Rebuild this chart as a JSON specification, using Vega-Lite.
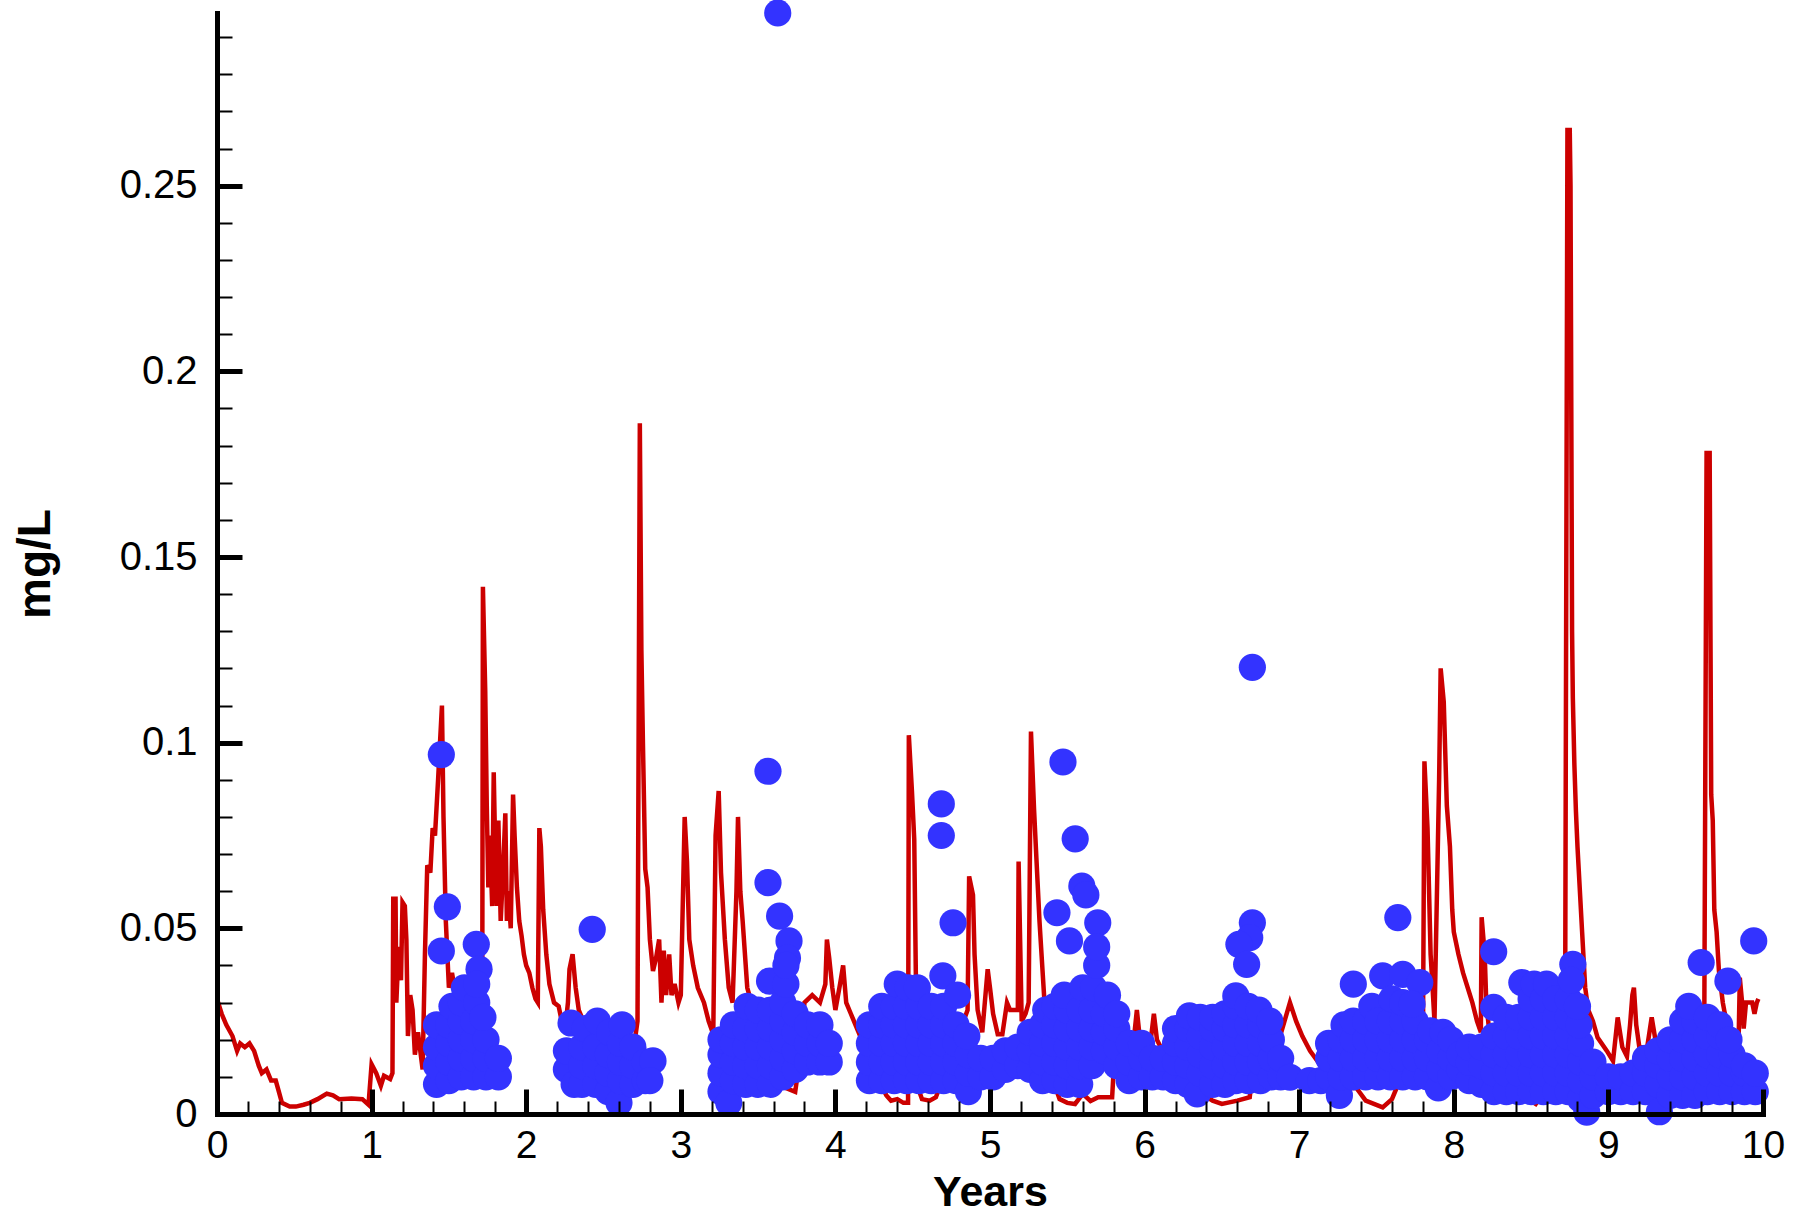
{
"$schema": "https://vega.github.io/schema/vega-lite/v6.json",
"width": 1546, "height": 1101,
"autosize": {"type": "none"},
"padding": {"left": 217, "top": 13, "right": 31, "bottom": 99},
"background": "white",
"config": {"view": {"stroke": null}, "axis": {"grid": false}},
"datasets": {
"model": [
{"year":0.00,"mg":0.031},{"year":0.03,"mg":0.027},{"year":0.06,"mg":0.024},{"year":0.10,"mg":0.021},{"year":0.13,"mg":0.017},{"year":0.15,"mg":0.019},{"year":0.18,"mg":0.018},{"year":0.21,"mg":0.019},{"year":0.24,"mg":0.017},{"year":0.27,"mg":0.013},{"year":0.29,"mg":0.011},{"year":0.32,"mg":0.012},{"year":0.35,"mg":0.009},{"year":0.38,"mg":0.009},{"year":0.40,"mg":0.006},{"year":0.42,"mg":0.003},{"year":0.47,"mg":0.002},{"year":0.51,"mg":0.002},{"year":0.56,"mg":0.0025},{"year":0.60,"mg":0.003},{"year":0.65,"mg":0.004},{"year":0.71,"mg":0.0055},{"year":0.75,"mg":0.005},{"year":0.79,"mg":0.004},{"year":0.87,"mg":0.0042},{"year":0.94,"mg":0.004},{"year":0.98,"mg":0.0025},
{"year":1.00,"mg":0.0134},{"year":1.03,"mg":0.011},{"year":1.06,"mg":0.0076},{"year":1.08,"mg":0.0103},{"year":1.12,"mg":0.0094},{"year":1.135,"mg":0.011},{"year":1.14,"mg":0.058},{"year":1.155,"mg":0.058},{"year":1.16,"mg":0.030},{"year":1.175,"mg":0.045},{"year":1.19,"mg":0.036},{"year":1.20,"mg":0.057},{"year":1.215,"mg":0.056},{"year":1.225,"mg":0.047},{"year":1.235,"mg":0.021},{"year":1.25,"mg":0.032},{"year":1.265,"mg":0.028},{"year":1.28,"mg":0.016},{"year":1.30,"mg":0.022},{"year":1.33,"mg":0.012},{"year":1.345,"mg":0.043},{"year":1.36,"mg":0.067},{"year":1.38,"mg":0.065},{"year":1.395,"mg":0.077},{"year":1.41,"mg":0.075},{"year":1.43,"mg":0.090},{"year":1.455,"mg":0.110},{"year":1.465,"mg":0.080},{"year":1.48,"mg":0.052},{"year":1.50,"mg":0.034},{"year":1.52,"mg":0.038},{"year":1.56,"mg":0.028},{"year":1.60,"mg":0.020},{"year":1.64,"mg":0.012},{"year":1.66,"mg":0.008},{"year":1.69,"mg":0.009},{"year":1.715,"mg":0.010},{"year":1.72,"mg":0.142},{"year":1.735,"mg":0.114},{"year":1.745,"mg":0.083},{"year":1.755,"mg":0.061},{"year":1.765,"mg":0.075},{"year":1.78,"mg":0.056},{"year":1.79,"mg":0.092},{"year":1.80,"mg":0.070},{"year":1.81,"mg":0.056},{"year":1.82,"mg":0.079},{"year":1.835,"mg":0.052},{"year":1.85,"mg":0.065},{"year":1.865,"mg":0.081},{"year":1.875,"mg":0.052},{"year":1.885,"mg":0.060},{"year":1.90,"mg":0.050},{"year":1.915,"mg":0.086},{"year":1.925,"mg":0.075},{"year":1.94,"mg":0.061},{"year":1.955,"mg":0.052},{"year":1.97,"mg":0.048},{"year":1.985,"mg":0.043},
{"year":2.00,"mg":0.040},{"year":2.02,"mg":0.038},{"year":2.04,"mg":0.034},{"year":2.06,"mg":0.031},{"year":2.075,"mg":0.030},{"year":2.085,"mg":0.077},{"year":2.095,"mg":0.072},{"year":2.11,"mg":0.055},{"year":2.13,"mg":0.043},{"year":2.15,"mg":0.035},{"year":2.18,"mg":0.030},{"year":2.21,"mg":0.029},{"year":2.23,"mg":0.025},{"year":2.25,"mg":0.022},{"year":2.27,"mg":0.030},{"year":2.28,"mg":0.039},{"year":2.30,"mg":0.043},{"year":2.32,"mg":0.034},{"year":2.34,"mg":0.028},{"year":2.38,"mg":0.024},{"year":2.45,"mg":0.020},{"year":2.52,"mg":0.017},{"year":2.60,"mg":0.014},{"year":2.68,"mg":0.013},{"year":2.72,"mg":0.025},{"year":2.735,"mg":0.186},{"year":2.745,"mg":0.125},{"year":2.755,"mg":0.100},{"year":2.77,"mg":0.066},{"year":2.785,"mg":0.061},{"year":2.80,"mg":0.047},{"year":2.82,"mg":0.0385},{"year":2.84,"mg":0.042},{"year":2.86,"mg":0.047},{"year":2.875,"mg":0.030},{"year":2.89,"mg":0.044},{"year":2.905,"mg":0.032},{"year":2.925,"mg":0.043},{"year":2.94,"mg":0.032},{"year":2.96,"mg":0.035},{"year":2.985,"mg":0.030},
{"year":3.00,"mg":0.032},{"year":3.025,"mg":0.080},{"year":3.04,"mg":0.068},{"year":3.055,"mg":0.047},{"year":3.08,"mg":0.040},{"year":3.11,"mg":0.034},{"year":3.15,"mg":0.030},{"year":3.18,"mg":0.025},{"year":3.21,"mg":0.0215},{"year":3.225,"mg":0.075},{"year":3.245,"mg":0.087},{"year":3.26,"mg":0.065},{"year":3.285,"mg":0.047},{"year":3.31,"mg":0.034},{"year":3.335,"mg":0.030},{"year":3.36,"mg":0.060},{"year":3.37,"mg":0.080},{"year":3.385,"mg":0.060},{"year":3.40,"mg":0.052},{"year":3.43,"mg":0.034},{"year":3.47,"mg":0.028},{"year":3.52,"mg":0.024},{"year":3.58,"mg":0.018},{"year":3.63,"mg":0.012},{"year":3.68,"mg":0.007},{"year":3.74,"mg":0.006},{"year":3.76,"mg":0.012},{"year":3.80,"mg":0.030},{"year":3.85,"mg":0.032},{"year":3.90,"mg":0.030},{"year":3.935,"mg":0.035},{"year":3.945,"mg":0.047},{"year":3.96,"mg":0.042},{"year":3.98,"mg":0.034},
{"year":4.00,"mg":0.028},{"year":4.03,"mg":0.035},{"year":4.05,"mg":0.040},{"year":4.07,"mg":0.030},{"year":4.10,"mg":0.027},{"year":4.14,"mg":0.023},{"year":4.18,"mg":0.019},{"year":4.22,"mg":0.014},{"year":4.28,"mg":0.009},{"year":4.33,"mg":0.005},{"year":4.36,"mg":0.0036},{"year":4.40,"mg":0.004},{"year":4.44,"mg":0.003},{"year":4.47,"mg":0.003},{"year":4.475,"mg":0.102},{"year":4.495,"mg":0.087},{"year":4.51,"mg":0.074},{"year":4.52,"mg":0.0385},{"year":4.535,"mg":0.007},{"year":4.56,"mg":0.004},{"year":4.61,"mg":0.0036},{"year":4.65,"mg":0.0045},{"year":4.70,"mg":0.010},{"year":4.76,"mg":0.018},{"year":4.82,"mg":0.024},{"year":4.855,"mg":0.028},{"year":4.865,"mg":0.064},{"year":4.89,"mg":0.059},{"year":4.90,"mg":0.043},{"year":4.92,"mg":0.028},{"year":4.95,"mg":0.022},{"year":4.985,"mg":0.039},
{"year":5.00,"mg":0.034},{"year":5.02,"mg":0.027},{"year":5.05,"mg":0.0215},{"year":5.08,"mg":0.0215},{"year":5.11,"mg":0.030},{"year":5.13,"mg":0.028},{"year":5.16,"mg":0.028},{"year":5.18,"mg":0.028},{"year":5.185,"mg":0.068},{"year":5.205,"mg":0.025},{"year":5.23,"mg":0.027},{"year":5.25,"mg":0.030},{"year":5.265,"mg":0.103},{"year":5.285,"mg":0.082},{"year":5.30,"mg":0.069},{"year":5.32,"mg":0.052},{"year":5.34,"mg":0.0385},{"year":5.36,"mg":0.025},{"year":5.40,"mg":0.010},{"year":5.45,"mg":0.004},{"year":5.50,"mg":0.003},{"year":5.55,"mg":0.0027},{"year":5.60,"mg":0.0054},{"year":5.65,"mg":0.0035},{"year":5.70,"mg":0.0045},{"year":5.76,"mg":0.0045},{"year":5.79,"mg":0.0045},{"year":5.80,"mg":0.012},{"year":5.86,"mg":0.018},{"year":5.93,"mg":0.020},{"year":5.95,"mg":0.028},{"year":5.97,"mg":0.020},
{"year":6.00,"mg":0.021},{"year":6.04,"mg":0.020},{"year":6.06,"mg":0.027},{"year":6.08,"mg":0.020},{"year":6.14,"mg":0.015},{"year":6.25,"mg":0.010},{"year":6.35,"mg":0.006},{"year":6.44,"mg":0.0036},{"year":6.50,"mg":0.0027},{"year":6.60,"mg":0.0036},{"year":6.68,"mg":0.0045},{"year":6.70,"mg":0.012},{"year":6.78,"mg":0.015},{"year":6.85,"mg":0.012},{"year":6.87,"mg":0.020},{"year":6.94,"mg":0.030},{"year":6.98,"mg":0.025},
{"year":7.02,"mg":0.021},{"year":7.07,"mg":0.017},{"year":7.14,"mg":0.013},{"year":7.20,"mg":0.009},{"year":7.30,"mg":0.007},{"year":7.37,"mg":0.007},{"year":7.43,"mg":0.0036},{"year":7.54,"mg":0.0018},{"year":7.60,"mg":0.004},{"year":7.65,"mg":0.009},{"year":7.73,"mg":0.0125},{"year":7.78,"mg":0.016},{"year":7.80,"mg":0.016},{"year":7.81,"mg":0.095},{"year":7.83,"mg":0.077},{"year":7.85,"mg":0.043},{"year":7.86,"mg":0.036},{"year":7.875,"mg":0.025},{"year":7.905,"mg":0.090},{"year":7.915,"mg":0.120},{"year":7.935,"mg":0.111},{"year":7.955,"mg":0.083},{"year":7.975,"mg":0.072},{"year":7.99,"mg":0.055},
{"year":8.00,"mg":0.049},{"year":8.03,"mg":0.043},{"year":8.06,"mg":0.038},{"year":8.09,"mg":0.034},{"year":8.12,"mg":0.030},{"year":8.15,"mg":0.025},{"year":8.175,"mg":0.022},{"year":8.18,"mg":0.053},{"year":8.20,"mg":0.043},{"year":8.21,"mg":0.030},{"year":8.23,"mg":0.022},{"year":8.30,"mg":0.015},{"year":8.40,"mg":0.008},{"year":8.48,"mg":0.004},{"year":8.53,"mg":0.0027},{"year":8.56,"mg":0.0045},{"year":8.62,"mg":0.006},{"year":8.68,"mg":0.010},{"year":8.72,"mg":0.025},{"year":8.735,"mg":0.265},{"year":8.75,"mg":0.265},{"year":8.755,"mg":0.25},{"year":8.765,"mg":0.13},{"year":8.77,"mg":0.112},{"year":8.78,"mg":0.094},{"year":8.79,"mg":0.0815},{"year":8.80,"mg":0.072},{"year":8.83,"mg":0.049},{"year":8.85,"mg":0.034},{"year":8.87,"mg":0.028},{"year":8.90,"mg":0.025},{"year":8.93,"mg":0.0206},{"year":8.99,"mg":0.017},
{"year":9.03,"mg":0.0143},{"year":9.06,"mg":0.026},{"year":9.09,"mg":0.018},{"year":9.12,"mg":0.0155},{"year":9.14,"mg":0.024},{"year":9.155,"mg":0.032},{"year":9.165,"mg":0.034},{"year":9.18,"mg":0.024},{"year":9.20,"mg":0.018},{"year":9.22,"mg":0.018},{"year":9.24,"mg":0.015},{"year":9.28,"mg":0.026},{"year":9.32,"mg":0.016},{"year":9.38,"mg":0.010},{"year":9.45,"mg":0.008},{"year":9.52,"mg":0.012},{"year":9.58,"mg":0.016},{"year":9.62,"mg":0.022},{"year":9.635,"mg":0.178},{"year":9.655,"mg":0.178},{"year":9.665,"mg":0.086},{"year":9.675,"mg":0.079},{"year":9.685,"mg":0.055},{"year":9.70,"mg":0.049},{"year":9.715,"mg":0.0385},{"year":9.74,"mg":0.030},{"year":9.78,"mg":0.021},{"year":9.82,"mg":0.017},{"year":9.84,"mg":0.015},{"year":9.85,"mg":0.0367},{"year":9.865,"mg":0.030},{"year":9.875,"mg":0.023},{"year":9.89,"mg":0.030},{"year":9.93,"mg":0.030},{"year":9.945,"mg":0.027},{"year":9.96,"mg":0.030},{"year":9.97,"mg":0.031}
],
"obs": [
{"year":1.451,"mg":0.0968},{"year":1.49,"mg":0.0558},{"year":1.451,"mg":0.0439},{"year":1.677,"mg":0.0457},{"year":1.695,"mg":0.039},
{"year":1.42,"mg":0.008},{"year":1.42,"mg":0.013},{"year":1.42,"mg":0.018},{"year":1.42,"mg":0.024},
{"year":1.50,"mg":0.009},{"year":1.50,"mg":0.014},{"year":1.50,"mg":0.019},{"year":1.50,"mg":0.024},{"year":1.52,"mg":0.029},
{"year":1.58,"mg":0.010},{"year":1.58,"mg":0.015},{"year":1.58,"mg":0.020},{"year":1.58,"mg":0.025},{"year":1.58,"mg":0.030},{"year":1.60,"mg":0.034},
{"year":1.66,"mg":0.010},{"year":1.66,"mg":0.015},{"year":1.66,"mg":0.020},{"year":1.66,"mg":0.025},{"year":1.68,"mg":0.030},{"year":1.68,"mg":0.035},
{"year":1.74,"mg":0.010},{"year":1.74,"mg":0.015},{"year":1.74,"mg":0.020},{"year":1.72,"mg":0.026},
{"year":1.82,"mg":0.010},{"year":1.82,"mg":0.015},
{"year":2.427,"mg":0.0497},
{"year":2.26,"mg":0.012},{"year":2.26,"mg":0.017},{"year":2.29,"mg":0.0245},{"year":2.31,"mg":0.008},
{"year":2.36,"mg":0.008},{"year":2.36,"mg":0.013},{"year":2.36,"mg":0.018},{"year":2.38,"mg":0.023},
{"year":2.45,"mg":0.008},{"year":2.45,"mg":0.013},{"year":2.45,"mg":0.018},{"year":2.46,"mg":0.025},
{"year":2.53,"mg":0.006},{"year":2.53,"mg":0.011},{"year":2.53,"mg":0.016},{"year":2.54,"mg":0.022},
{"year":2.60,"mg":0.003},{"year":2.61,"mg":0.009},{"year":2.61,"mg":0.014},{"year":2.61,"mg":0.019},{"year":2.62,"mg":0.024},
{"year":2.69,"mg":0.008},{"year":2.69,"mg":0.013},{"year":2.69,"mg":0.018},
{"year":2.77,"mg":0.009},{"year":2.77,"mg":0.014},{"year":2.82,"mg":0.0143},{"year":2.80,"mg":0.009},
{"year":3.627,"mg":0.2965},{"year":3.564,"mg":0.0923},{"year":3.564,"mg":0.0623},{"year":3.639,"mg":0.0533},{"year":3.70,"mg":0.0466},{"year":3.69,"mg":0.042},
{"year":3.26,"mg":0.006},{"year":3.26,"mg":0.011},{"year":3.26,"mg":0.016},{"year":3.26,"mg":0.020},
{"year":3.31,"mg":0.003},{"year":3.34,"mg":0.009},{"year":3.34,"mg":0.014},{"year":3.34,"mg":0.019},{"year":3.34,"mg":0.024},
{"year":3.42,"mg":0.008},{"year":3.42,"mg":0.013},{"year":3.42,"mg":0.018},{"year":3.42,"mg":0.023},{"year":3.43,"mg":0.029},
{"year":3.50,"mg":0.008},{"year":3.50,"mg":0.013},{"year":3.50,"mg":0.018},{"year":3.50,"mg":0.023},{"year":3.50,"mg":0.028},
{"year":3.58,"mg":0.008},{"year":3.58,"mg":0.013},{"year":3.58,"mg":0.018},{"year":3.58,"mg":0.023},{"year":3.58,"mg":0.028},{"year":3.574,"mg":0.0358},
{"year":3.66,"mg":0.010},{"year":3.66,"mg":0.015},{"year":3.66,"mg":0.020},{"year":3.66,"mg":0.025},{"year":3.66,"mg":0.030},{"year":3.68,"mg":0.035},{"year":3.68,"mg":0.040},
{"year":3.74,"mg":0.012},{"year":3.74,"mg":0.017},{"year":3.74,"mg":0.022},{"year":3.74,"mg":0.027},
{"year":3.82,"mg":0.014},{"year":3.82,"mg":0.019},{"year":3.82,"mg":0.024},
{"year":3.90,"mg":0.014},{"year":3.90,"mg":0.019},{"year":3.90,"mg":0.024},
{"year":3.96,"mg":0.014},{"year":3.96,"mg":0.019},
{"year":4.685,"mg":0.0835},{"year":4.685,"mg":0.075},{"year":4.761,"mg":0.0515},
{"year":4.22,"mg":0.009},{"year":4.22,"mg":0.014},{"year":4.22,"mg":0.019},{"year":4.22,"mg":0.024},
{"year":4.30,"mg":0.009},{"year":4.30,"mg":0.014},{"year":4.30,"mg":0.019},{"year":4.30,"mg":0.024},{"year":4.30,"mg":0.029},
{"year":4.38,"mg":0.009},{"year":4.38,"mg":0.014},{"year":4.38,"mg":0.019},{"year":4.38,"mg":0.024},{"year":4.38,"mg":0.029},{"year":4.40,"mg":0.035},
{"year":4.46,"mg":0.009},{"year":4.46,"mg":0.014},{"year":4.46,"mg":0.019},{"year":4.46,"mg":0.024},{"year":4.46,"mg":0.029},{"year":4.47,"mg":0.034},
{"year":4.54,"mg":0.009},{"year":4.54,"mg":0.014},{"year":4.54,"mg":0.019},{"year":4.54,"mg":0.024},{"year":4.54,"mg":0.029},{"year":4.53,"mg":0.034},
{"year":4.62,"mg":0.009},{"year":4.62,"mg":0.014},{"year":4.62,"mg":0.019},{"year":4.62,"mg":0.024},{"year":4.62,"mg":0.029},
{"year":4.70,"mg":0.009},{"year":4.70,"mg":0.014},{"year":4.70,"mg":0.019},{"year":4.70,"mg":0.024},{"year":4.70,"mg":0.029},{"year":4.695,"mg":0.0372},
{"year":4.78,"mg":0.009},{"year":4.78,"mg":0.014},{"year":4.78,"mg":0.019},{"year":4.78,"mg":0.024},{"year":4.79,"mg":0.032},
{"year":4.86,"mg":0.006},{"year":4.86,"mg":0.011},{"year":4.86,"mg":0.016},{"year":4.85,"mg":0.021},
{"year":4.94,"mg":0.010},{"year":4.94,"mg":0.015},{"year":5.02,"mg":0.010},{"year":5.02,"mg":0.015},{"year":5.10,"mg":0.012},{"year":5.10,"mg":0.017},{"year":5.18,"mg":0.013},{"year":5.18,"mg":0.018},
{"year":5.472,"mg":0.0948},{"year":5.551,"mg":0.0741},{"year":5.594,"mg":0.0614},{"year":5.62,"mg":0.059},{"year":5.433,"mg":0.0542},{"year":5.697,"mg":0.0515},{"year":5.514,"mg":0.0466},
{"year":5.26,"mg":0.012},{"year":5.26,"mg":0.017},{"year":5.26,"mg":0.022},
{"year":5.34,"mg":0.009},{"year":5.34,"mg":0.014},{"year":5.34,"mg":0.019},{"year":5.34,"mg":0.024},{"year":5.36,"mg":0.028},
{"year":5.42,"mg":0.009},{"year":5.42,"mg":0.014},{"year":5.42,"mg":0.019},{"year":5.42,"mg":0.024},{"year":5.42,"mg":0.029},
{"year":5.50,"mg":0.008},{"year":5.50,"mg":0.013},{"year":5.50,"mg":0.018},{"year":5.50,"mg":0.023},{"year":5.50,"mg":0.028},{"year":5.48,"mg":0.032},
{"year":5.58,"mg":0.008},{"year":5.58,"mg":0.013},{"year":5.58,"mg":0.018},{"year":5.58,"mg":0.023},{"year":5.58,"mg":0.028},{"year":5.60,"mg":0.034},
{"year":5.66,"mg":0.013},{"year":5.66,"mg":0.018},{"year":5.66,"mg":0.023},{"year":5.66,"mg":0.028},{"year":5.67,"mg":0.034},{"year":5.69,"mg":0.040},{"year":5.69,"mg":0.045},
{"year":5.74,"mg":0.017},{"year":5.74,"mg":0.022},{"year":5.74,"mg":0.027},{"year":5.76,"mg":0.032},
{"year":5.82,"mg":0.013},{"year":5.82,"mg":0.018},{"year":5.82,"mg":0.023},{"year":5.82,"mg":0.027},
{"year":5.90,"mg":0.009},{"year":5.90,"mg":0.014},{"year":5.90,"mg":0.019},
{"year":5.98,"mg":0.010},{"year":5.98,"mg":0.015},{"year":5.98,"mg":0.019},
{"year":6.05,"mg":0.010},{"year":6.05,"mg":0.015},
{"year":6.697,"mg":0.1203},{"year":6.697,"mg":0.0515},{"year":6.68,"mg":0.0475},{"year":6.61,"mg":0.0457},{"year":6.66,"mg":0.0403},
{"year":6.12,"mg":0.010},{"year":6.12,"mg":0.015},
{"year":6.20,"mg":0.009},{"year":6.20,"mg":0.014},{"year":6.20,"mg":0.019},{"year":6.20,"mg":0.023},
{"year":6.28,"mg":0.008},{"year":6.28,"mg":0.013},{"year":6.28,"mg":0.018},{"year":6.28,"mg":0.023},{"year":6.29,"mg":0.0264},
{"year":6.34,"mg":0.0054},{"year":6.36,"mg":0.011},{"year":6.36,"mg":0.016},{"year":6.36,"mg":0.021},{"year":6.36,"mg":0.026},
{"year":6.44,"mg":0.008},{"year":6.44,"mg":0.013},{"year":6.44,"mg":0.018},{"year":6.44,"mg":0.023},{"year":6.44,"mg":0.026},
{"year":6.52,"mg":0.008},{"year":6.52,"mg":0.013},{"year":6.52,"mg":0.018},{"year":6.52,"mg":0.023},{"year":6.52,"mg":0.027},
{"year":6.59,"mg":0.009},{"year":6.59,"mg":0.014},{"year":6.59,"mg":0.019},{"year":6.59,"mg":0.024},{"year":6.59,"mg":0.029},{"year":6.59,"mg":0.0318},
{"year":6.67,"mg":0.009},{"year":6.67,"mg":0.014},{"year":6.67,"mg":0.019},{"year":6.67,"mg":0.024},{"year":6.67,"mg":0.029},
{"year":6.75,"mg":0.009},{"year":6.75,"mg":0.014},{"year":6.75,"mg":0.019},{"year":6.75,"mg":0.024},{"year":6.74,"mg":0.028},
{"year":6.82,"mg":0.010},{"year":6.82,"mg":0.015},{"year":6.82,"mg":0.020},{"year":6.81,"mg":0.025},
{"year":6.88,"mg":0.010},{"year":6.88,"mg":0.015},{"year":6.94,"mg":0.0099},{"year":7.066,"mg":0.009},{"year":7.14,"mg":0.009},
{"year":7.638,"mg":0.0529},{"year":7.35,"mg":0.035},{"year":7.54,"mg":0.0372},{"year":7.67,"mg":0.0376},{"year":7.78,"mg":0.0354},
{"year":7.19,"mg":0.010},{"year":7.19,"mg":0.015},{"year":7.19,"mg":0.019},
{"year":7.26,"mg":0.005},{"year":7.27,"mg":0.010},{"year":7.27,"mg":0.015},{"year":7.27,"mg":0.020},{"year":7.29,"mg":0.024},
{"year":7.35,"mg":0.010},{"year":7.35,"mg":0.015},{"year":7.35,"mg":0.020},{"year":7.35,"mg":0.025},
{"year":7.43,"mg":0.010},{"year":7.43,"mg":0.015},{"year":7.43,"mg":0.020},{"year":7.43,"mg":0.025},{"year":7.47,"mg":0.029},
{"year":7.51,"mg":0.010},{"year":7.51,"mg":0.015},{"year":7.51,"mg":0.020},{"year":7.51,"mg":0.025},
{"year":7.59,"mg":0.010},{"year":7.59,"mg":0.015},{"year":7.59,"mg":0.020},{"year":7.59,"mg":0.025},{"year":7.60,"mg":0.031},
{"year":7.67,"mg":0.010},{"year":7.67,"mg":0.015},{"year":7.67,"mg":0.020},{"year":7.67,"mg":0.025},{"year":7.67,"mg":0.030},
{"year":7.75,"mg":0.010},{"year":7.75,"mg":0.015},{"year":7.75,"mg":0.020},{"year":7.75,"mg":0.025},{"year":7.73,"mg":0.0296},
{"year":7.83,"mg":0.010},{"year":7.83,"mg":0.015},{"year":7.83,"mg":0.020},{"year":7.85,"mg":0.0224},
{"year":7.90,"mg":0.007},{"year":7.91,"mg":0.012},{"year":7.91,"mg":0.017},{"year":7.93,"mg":0.022},
{"year":7.98,"mg":0.010},{"year":7.98,"mg":0.015},{"year":7.98,"mg":0.020},
{"year":8.04,"mg":0.012},{"year":8.04,"mg":0.016},
{"year":8.258,"mg":0.0437},{"year":8.258,"mg":0.0287},{"year":8.77,"mg":0.0403},
{"year":8.10,"mg":0.009},{"year":8.10,"mg":0.014},{"year":8.10,"mg":0.018},
{"year":8.18,"mg":0.008},{"year":8.18,"mg":0.013},{"year":8.18,"mg":0.018},
{"year":8.26,"mg":0.006},{"year":8.26,"mg":0.011},{"year":8.26,"mg":0.016},{"year":8.26,"mg":0.021},
{"year":8.34,"mg":0.006},{"year":8.34,"mg":0.011},{"year":8.34,"mg":0.016},{"year":8.34,"mg":0.021},{"year":8.34,"mg":0.026},
{"year":8.42,"mg":0.006},{"year":8.42,"mg":0.011},{"year":8.42,"mg":0.016},{"year":8.42,"mg":0.021},{"year":8.42,"mg":0.026},{"year":8.44,"mg":0.0354},
{"year":8.50,"mg":0.006},{"year":8.50,"mg":0.011},{"year":8.50,"mg":0.016},{"year":8.50,"mg":0.021},{"year":8.50,"mg":0.026},{"year":8.50,"mg":0.031},{"year":8.52,"mg":0.035},
{"year":8.58,"mg":0.006},{"year":8.58,"mg":0.011},{"year":8.58,"mg":0.016},{"year":8.58,"mg":0.021},{"year":8.58,"mg":0.026},{"year":8.58,"mg":0.031},{"year":8.60,"mg":0.035},
{"year":8.66,"mg":0.006},{"year":8.66,"mg":0.011},{"year":8.66,"mg":0.016},{"year":8.66,"mg":0.021},{"year":8.66,"mg":0.026},{"year":8.66,"mg":0.031},
{"year":8.74,"mg":0.006},{"year":8.74,"mg":0.011},{"year":8.74,"mg":0.016},{"year":8.74,"mg":0.021},{"year":8.74,"mg":0.026},{"year":8.74,"mg":0.031},{"year":8.76,"mg":0.036},
{"year":8.82,"mg":0.004},{"year":8.82,"mg":0.009},{"year":8.82,"mg":0.014},{"year":8.82,"mg":0.019},{"year":8.81,"mg":0.024},{"year":8.80,"mg":0.029},
{"year":8.86,"mg":0.0005},{"year":8.90,"mg":0.005},{"year":8.90,"mg":0.010},{"year":8.90,"mg":0.014},
{"year":9.94,"mg":0.0466},{"year":9.6,"mg":0.0408},{"year":9.773,"mg":0.0358},
{"year":9.00,"mg":0.006},{"year":9.00,"mg":0.010},{"year":9.08,"mg":0.006},{"year":9.08,"mg":0.010},{"year":9.16,"mg":0.006},{"year":9.16,"mg":0.011},
{"year":9.24,"mg":0.006},{"year":9.24,"mg":0.011},{"year":9.24,"mg":0.015},
{"year":9.33,"mg":0.0006},{"year":9.32,"mg":0.008},{"year":9.32,"mg":0.013},{"year":9.32,"mg":0.017},
{"year":9.40,"mg":0.005},{"year":9.40,"mg":0.010},{"year":9.40,"mg":0.015},{"year":9.40,"mg":0.020},
{"year":9.48,"mg":0.005},{"year":9.48,"mg":0.010},{"year":9.48,"mg":0.015},{"year":9.48,"mg":0.020},{"year":9.48,"mg":0.025},
{"year":9.56,"mg":0.005},{"year":9.56,"mg":0.010},{"year":9.56,"mg":0.015},{"year":9.56,"mg":0.020},{"year":9.56,"mg":0.025},{"year":9.52,"mg":0.029},
{"year":9.64,"mg":0.006},{"year":9.64,"mg":0.011},{"year":9.64,"mg":0.016},{"year":9.64,"mg":0.021},{"year":9.64,"mg":0.026},
{"year":9.72,"mg":0.006},{"year":9.72,"mg":0.011},{"year":9.72,"mg":0.016},{"year":9.72,"mg":0.021},{"year":9.72,"mg":0.024},
{"year":9.80,"mg":0.006},{"year":9.80,"mg":0.011},{"year":9.80,"mg":0.016},{"year":9.78,"mg":0.020},
{"year":9.88,"mg":0.006},{"year":9.88,"mg":0.011},{"year":9.88,"mg":0.013},
{"year":9.95,"mg":0.006},{"year":9.95,"mg":0.011}
]
},
"layer": [
{
"data": {"name": "model"},
"mark": {"type": "line", "color": "#CC0000", "strokeWidth": 4.5, "clip": true},
"encoding": {
"x": {"field": "year", "type": "quantitative", "scale": {"domain": [0, 10], "nice": false, "zero": false},
"axis": {"orient": "bottom", "values": [0,1,2,3,4,5,6,7,8,9,10], "format": "d", "tickSize": -25, "tickWidth": 5, "tickColor": "black", "domainColor": "black", "domainWidth": 5, "domainCap": "square", "labelFont": "Liberation Sans", "labelFontSize": 39, "labelColor": "black", "labelPadding": 37, "labelFlush": false, "labelOverlap": false, "title": "Years", "titleFont": "Liberation Sans", "titleFontSize": 43, "titleFontWeight": "bold", "titleColor": "black", "titleBaseline": "alphabetic", "titleY": 91, "zindex": 1}},
"y": {"field": "mg", "type": "quantitative", "scale": {"domain": [0, 0.2965], "nice": false, "zero": false},
"axis": {"orient": "left", "values": [0,0.05,0.1,0.15,0.2,0.25], "format": ".2~f", "tickSize": -25, "tickWidth": 5, "tickColor": "black", "domainColor": "black", "domainWidth": 5, "domainCap": "square", "labelFont": "Liberation Sans", "labelFontSize": 40, "labelColor": "black", "labelPadding": 45, "labelFlush": false, "labelOverlap": false, "title": "mg/L", "titleFont": "Liberation Sans", "titleFontSize": 46, "titleFontWeight": "bold", "titleColor": "black", "titlePadding": 60, "zindex": 1}}
}
},
{
"data": {"name": "obs"},
"mark": {"type": "circle", "size": 740, "color": "#3333FF", "opacity": 1},
"encoding": {
"x": {"field": "year", "type": "quantitative", "scale": {"domain": [0, 10], "nice": false, "zero": false},
"axis": {"orient": "bottom", "values": [0.2,0.4,0.6,0.8,1.2,1.4,1.6,1.8,2.2,2.4,2.6,2.8,3.2,3.4,3.6,3.8,4.2,4.4,4.6,4.8,5.2,5.4,5.6,5.8,6.2,6.4,6.6,6.8,7.2,7.4,7.6,7.8,8.2,8.4,8.6,8.8,9.2,9.4,9.6,9.8], "labels": false, "domain": false, "tickSize": -13, "tickWidth": 2, "tickColor": "black", "title": null, "zindex": 1}},
"y": {"field": "mg", "type": "quantitative", "scale": {"domain": [0, 0.2965], "nice": false, "zero": false},
"axis": {"orient": "left", "values": [0.01,0.02,0.03,0.04,0.06,0.07,0.08,0.09,0.11,0.12,0.13,0.14,0.16,0.17,0.18,0.19,0.21,0.22,0.23,0.24,0.26,0.27,0.28,0.29], "labels": false, "domain": false, "tickSize": -15, "tickWidth": 2, "tickColor": "black", "title": null, "zindex": 1}}
}
}
],
"resolve": {"axis": {"x": "independent", "y": "independent"}}
}
